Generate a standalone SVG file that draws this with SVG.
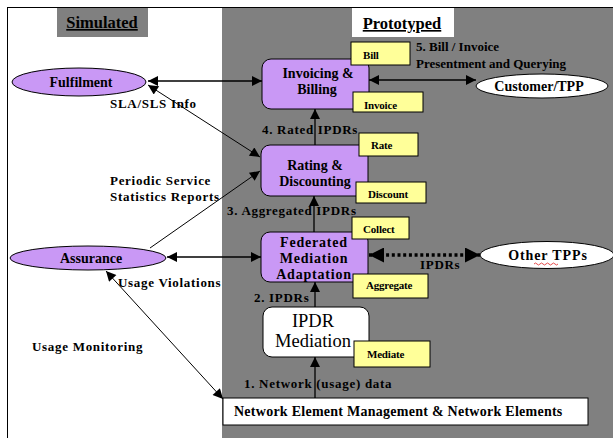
<svg xmlns="http://www.w3.org/2000/svg" width="613" height="438" viewBox="0 0 613 438">
  <style>
    .t { font-family: "Liberation Serif", "DejaVu Serif", "Times New Roman", Times, serif; font-weight: bold; fill: #000; }
    .r { font-family: "Liberation Serif", "DejaVu Serif", "Times New Roman", Times, serif; fill: #000; }
    .lbl { font-size: 13px; letter-spacing: 0.7px; }
    .lbl-tight { font-size: 13px; }
    .node { font-size: 14px; text-anchor: middle; }
    .tag { font-size: 11px; letter-spacing: -0.2px; }
    .proc { fill: #c998f5; stroke: #000; stroke-width: 1; }
    .note { fill: #ffff99; stroke: #000; stroke-width: 1; }
    .oval-p { fill: #c998f5; stroke: #000; stroke-width: 1; }
    .oval-w { fill: #fff; stroke: #000; stroke-width: 1; }
    .ln { stroke: #000; fill: none; }
  </style>
  <defs>
    <marker id="ah" viewBox="0 0 10 10" refX="10" refY="5" markerWidth="12" markerHeight="10" orient="auto-start-reverse" markerUnits="userSpaceOnUse">
      <path d="M0,0 L10,5 L0,10 z" fill="#000"/>
    </marker>
    <marker id="ahBig" viewBox="0 0 10 10" refX="10" refY="5" markerWidth="15" markerHeight="15" orient="auto-start-reverse" markerUnits="userSpaceOnUse">
      <path d="M0,0 L10,5 L0,10 z" fill="#000"/>
    </marker>
  </defs>

  <!-- frame and zones -->
  <rect x="0" y="0" width="613" height="438" fill="#fff"/>
  <rect x="7.5" y="7.5" width="620" height="440" fill="#fff" stroke="#000" stroke-width="1"/>
  <rect x="222" y="8" width="391" height="430" fill="#808080"/>

  <g id="zone-simulated">
    <rect x="57" y="8" width="91" height="29" fill="#808080"/>
    <text class="t" x="102" y="28" font-size="16.5" text-anchor="middle" text-decoration="underline">Simulated</text>
  </g>
  <g id="zone-prototyped">
    <rect x="352" y="8" width="102" height="29" fill="#fff"/>
    <text class="t" x="402" y="29" font-size="16.5" text-anchor="middle" text-decoration="underline">Prototyped</text>
  </g>

  <!-- connectors -->
  <g id="connectors">
    <line class="ln" x1="148" y1="81" x2="262" y2="81" stroke-width="1.3" marker-start="url(#ah)" marker-end="url(#ah)"/>
    <line class="ln" x1="369" y1="80" x2="476" y2="80" stroke-width="1.3" marker-start="url(#ah)" marker-end="url(#ah)"/>
    <line class="ln" x1="148" y1="85" x2="260" y2="157" stroke-width="1" marker-start="url(#ah)" marker-end="url(#ah)"/>
    <line class="ln" x1="150" y1="248" x2="260" y2="171" stroke-width="1" marker-end="url(#ah)"/>
    <line class="ln" x1="167" y1="257" x2="261" y2="257" stroke-width="1.3" marker-start="url(#ah)" marker-end="url(#ah)"/>
    <line class="ln" x1="106" y1="271" x2="223" y2="399" stroke-width="1" marker-start="url(#ah)" marker-end="url(#ah)"/>
    <line class="ln" x1="315" y1="145" x2="315" y2="109" stroke-width="1.3" marker-end="url(#ah)"/>
    <line class="ln" x1="314" y1="232" x2="314" y2="196" stroke-width="1.3" marker-end="url(#ah)"/>
    <line class="ln" x1="315" y1="307" x2="315" y2="282" stroke-width="1.3" marker-end="url(#ah)"/>
    <line class="ln" x1="315" y1="398" x2="315" y2="357" stroke-width="1.3" marker-end="url(#ah)"/>
    <line class="ln" x1="369" y1="255" x2="480" y2="255" stroke-width="3.5" stroke-dasharray="3 2.7" marker-start="url(#ahBig)" marker-end="url(#ahBig)"/>
  </g>

  <!-- connector labels -->
  <g id="labels">
    <text class="t lbl" x="110" y="108">SLA/SLS Info</text>
    <text class="t lbl" x="110" y="185">Periodic Service</text>
    <text class="t lbl" x="110" y="201">Statistics Reports</text>
    <text class="t lbl" x="118" y="287">Usage Violations</text>
    <text class="t lbl" x="32" y="351">Usage Monitoring</text>
    <text class="t lbl-tight" x="416" y="51">5. Bill / Invoice</text>
    <text class="t lbl-tight" x="416" y="68">Presentment and Querying</text>
    <text class="t lbl" x="262" y="134">4. Rated IPDRs</text>
    <text class="t lbl" x="227" y="215">3. Aggregated IPDRs</text>
    <text class="t lbl" x="420" y="269">IPDRs</text>
    <text class="t lbl" x="254" y="302">2. IPDRs</text>
    <text class="t lbl" x="244" y="388">1. Network (usage) data</text>
  </g>

  <!-- simulated systems -->
  <g id="fulfilment">
    <ellipse class="oval-p" cx="79" cy="82" rx="67" ry="14"/>
    <text class="t node" x="81" y="87">Fulfilment</text>
  </g>
  <g id="assurance">
    <ellipse class="oval-p" cx="88" cy="258" rx="78" ry="12"/>
    <text class="t node" x="91" y="263">Assurance</text>
  </g>

  <!-- external parties -->
  <g id="customer-tpp">
    <ellipse class="oval-w" cx="542" cy="86" rx="66" ry="12"/>
    <text class="t node" x="539" y="91">Customer/TPP</text>
  </g>
  <g id="other-tpps">
    <ellipse class="oval-w" cx="547" cy="255" rx="67" ry="13.5"/>
    <text class="t node" x="548" y="260" letter-spacing="0.9">Other TPPs</text>
    <path d="M534,264 q1.5,-2 3,0 t3,0 t3,0 t3,0 t3,0 t3,0 t3,0 t3,0" fill="none" stroke="#e02020" stroke-width="0.8"/>
  </g>

  <!-- prototyped processes -->
  <g id="invoicing-billing">
    <rect class="proc" x="262" y="59" width="107" height="50" rx="9"/>
    <text class="t node" x="318" y="78" font-size="15">Invoicing &amp;</text>
    <text class="t node" x="317" y="94" font-size="15">Billing</text>
    <rect class="note" x="351" y="42" width="59" height="23"/>
    <text class="t tag" x="363" y="59">Bill</text>
    <rect class="note" x="353" y="92" width="70" height="20"/>
    <text class="t tag" x="364" y="109">Invoice</text>
  </g>
  <g id="rating-discounting">
    <rect class="proc" x="261" y="145" width="107" height="51" rx="9"/>
    <text class="t node" x="315" y="170" font-size="14.5">Rating &amp;</text>
    <text class="t node" x="315" y="186" font-size="14.5">Discounting</text>
    <rect class="note" x="359" y="133" width="59" height="23"/>
    <text class="t tag" x="371" y="149">Rate</text>
    <rect class="note" x="356" y="182" width="70" height="21"/>
    <text class="t tag" x="368" y="198">Discount</text>
  </g>
  <g id="federated-mediation">
    <rect class="proc" x="261" y="232" width="107" height="50" rx="9"/>
    <text class="t node" x="314" y="247" letter-spacing="0.8">Federated</text>
    <text class="t node" x="314" y="263" letter-spacing="0.8">Mediation</text>
    <text class="t node" x="314" y="279" letter-spacing="0.8">Adaptation</text>
    <rect class="note" x="352" y="217" width="57" height="22"/>
    <text class="t tag" x="363" y="233">Collect</text>
    <rect class="note" x="353" y="274" width="75" height="24"/>
    <text class="t tag" x="366" y="289">Aggregate</text>
  </g>
  <g id="ipdr-mediation">
    <rect x="263" y="307" width="106" height="50" rx="9" fill="#fff" stroke="#000"/>
    <text class="r" x="313" y="327" font-size="18.5" text-anchor="middle">IPDR</text>
    <text class="r" x="313" y="347" font-size="18.5" text-anchor="middle">Mediation</text>
    <rect class="note" x="354" y="341" width="76" height="26"/>
    <text class="t tag" x="367" y="358">Mediate</text>
  </g>
  <g id="network-elements">
    <rect x="223" y="398" width="365" height="27" fill="#fff" stroke="#000"/>
    <text class="t" x="234" y="416" font-size="14" letter-spacing="0.26">Network Element Management &amp; Network Elements</text>
  </g>
</svg>
